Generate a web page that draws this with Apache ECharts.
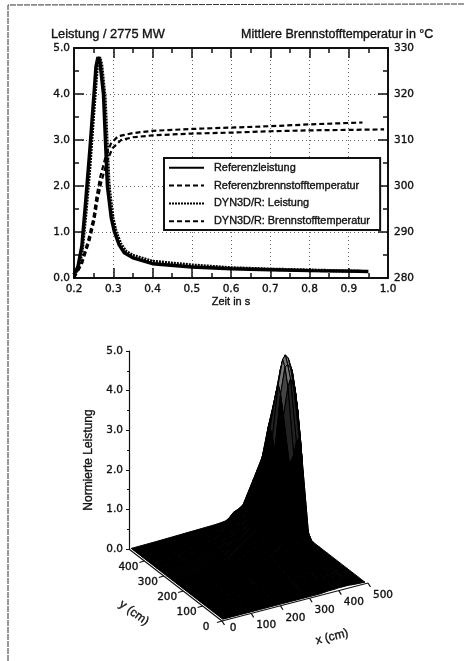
<!DOCTYPE html>
<html>
<head>
<meta charset="utf-8">
<title>Leistung und Brennstofftemperatur</title>
<script src="https://cdn.jsdelivr.net/npm/echarts@6/dist/echarts.min.js"></script>
<style>
  html, body { margin: 0; padding: 0; background: #fff; }
  #chart { width: 464px; height: 661px; }
</style>
</head>
<body>
<div id="chart"></div>
<script>
// Obere Grafik: Zeit in s, Leistung normiert, Temperatur in Grad C
const refPower = [[0.2,0.07],[0.21,0.25],[0.22,0.7],[0.23,1.7],[0.24,2.75],[0.25,3.9],[0.256,4.6],[0.261,4.8],[0.266,4.7],[0.275,4.0],[0.285,2.0],[0.295,1.3],[0.303,1.0],[0.315,0.72],[0.328,0.55],[0.35,0.44],[0.4,0.31],[0.5,0.24],[0.6,0.2],[0.7,0.18],[0.8,0.16],[0.9,0.15],[0.95,0.14]];
const dynPower = [[0.2,0.07],[0.21,0.2],[0.22,0.55],[0.23,1.4],[0.24,2.4],[0.25,3.6],[0.259,4.6],[0.265,4.8],[0.27,4.65],[0.279,3.9],[0.289,2.0],[0.299,1.3],[0.307,1.0],[0.319,0.74],[0.332,0.58],[0.35,0.49],[0.4,0.36],[0.5,0.28],[0.6,0.22],[0.7,0.19],[0.8,0.17],[0.9,0.15],[0.93,0.15]];
const refTemp = [[0.2,280],[0.22,283],[0.24,288.3],[0.252,292.6],[0.26,297],[0.27,301],[0.285,305.6],[0.298,308.2],[0.32,310],[0.35,310.6],[0.4,311],[0.5,311.4],[0.6,311.6],[0.7,311.9],[0.8,312.1],[0.9,312.2],[0.99,312.3]];
const dynTemp = [[0.2,280],[0.22,283.6],[0.237,288.5],[0.249,292.8],[0.257,297.5],[0.267,302],[0.281,306.5],[0.294,309.2],[0.312,310.8],[0.35,311.5],[0.4,312],[0.5,312.4],[0.6,312.7],[0.7,313],[0.8,313.4],[0.9,313.7],[0.935,313.8]];

// Untere Grafik: Gitter in cm und normierte Leistung je Gitterpunkt
const surfaceX = [8,100,200,300,340,370,390,405,414,424,438,450,470,495];
const surfaceY = [8,100,200,240,270,285,297,309,320,350,380,420,450,480];
const surfacePower = [
  [0,0,0,0,0,0.02,0.02,0.03,0.03,0.03,0.03,0.02,0.01,0],
  [0,0,0.02,0.08,0.12,0.15,0.18,0.2,0.2,0.2,0.15,0.1,0.03,0],
  [0,0.02,0.1,0.3,0.5,0.8,1.0,1.0,0.9,0.5,0.15,0.05,0.02,0],
  [0,0.03,0.15,0.55,1.0,1.6,2.3,2.5,2.8,2.9,1.2,0.2,0.05,0],
  [0,0.04,0.2,0.75,1.4,2.2,3.4,4.1,4.3,4.1,3.5,2.55,0.2,0],
  [0,0.05,0.22,0.8,1.5,2.5,3.9,4.55,4.6,4.5,4.0,3.3,0.6,0],
  [0,0.05,0.25,0.85,1.6,2.8,4.1,4.7,4.8,4.7,4.35,3.75,2.2,0],
  [0,0.05,0.28,0.9,1.7,3.0,3.85,4.4,4.6,4.65,4.45,4.0,2.7,0],
  [0,0.05,0.3,0.95,1.7,2.8,3.55,4.0,4.3,4.5,4.4,4.0,3.0,0],
  [0,0.05,0.3,0.95,1.6,2.1,2.8,3.2,3.4,3.6,3.6,3.3,2.4,1.0],
  [0,0.05,0.25,0.75,0.95,1.35,1.75,2.0,2.2,2.3,2.3,2.1,1.6,0.7],
  [0,0.04,0.12,0.3,0.6,0.75,0.85,0.95,1.0,1.05,1.0,0.9,0.7,0.4],
  [0,0.02,0.06,0.1,0.4,0.4,0.45,0.5,0.5,0.5,0.5,0.45,0.4,0.3],
  [0,0.01,0.03,0.05,0.08,0.1,0.12,0.15,0.15,0.18,0.2,0.2,0.15,0.1]
];
const xTicks = [0,100,200,300,400,500];
const yTicks = [0,100,200,300,400];

const sans = '"Liberation Sans", Arial, sans-serif';
const digits = '"DejaVu Sans", sans-serif';
const ink = '#111';
const numFmt = v => v.toFixed(1);
// Scan wirkt fett: Text leicht nachziehen
const heavy = { textBorderColor: '#111', textBorderWidth: 0.35 };

// Schraegbild: (x, y, z) auf die waagerechte Hilfsachse und die z-Achse abbilden
function project(x, y, z) {
  return [x * 0.292 - y * 0.194 + 93, z + (x * 0.076 + y * 0.15 - 72) / 39.6];
}

const chart = echarts.init(document.getElementById('chart'), null, { renderer: 'canvas' });

function frameXAxis(position, showLabels) {
  return {
    type: 'value', gridIndex: 0, position, min: 0.2, max: 1.0, interval: 0.1,
    axisLine: { show: true, onZero: false, lineStyle: { color: ink, width: 2 } },
    axisTick: { show: true, inside: true, length: 10, lineStyle: { color: ink, width: 1.5 } },
    minorTick: { show: true, splitNumber: 2, length: 5, lineStyle: { color: ink, width: 1.5 } },
    axisLabel: { show: showLabels, formatter: numFmt, margin: 6, color: ink, fontFamily: digits, fontSize: 10.5, showMinLabel: true, showMaxLabel: true, ...heavy },
    splitLine: { show: showLabels, lineStyle: { color: '#666', width: 1, type: [1, 3] } },
    name: showLabels ? 'Zeit in s' : '',
    nameLocation: 'middle', nameGap: 18,
    nameTextStyle: { color: ink, fontFamily: sans, fontSize: 11, ...heavy }
  };
}

function frameYAxis(position, min, max, interval, formatter, grid) {
  return {
    type: 'value', gridIndex: 0, position, min, max, interval,
    axisLine: { show: true, onZero: false, lineStyle: { color: ink, width: 2 } },
    axisTick: { show: true, inside: true, length: 10, lineStyle: { color: ink, width: 1.5 } },
    minorTick: { show: true, splitNumber: 2, length: 5, lineStyle: { color: ink, width: 1.5 } },
    axisLabel: { formatter, margin: position === 'left' ? 4 : 6, color: ink, fontFamily: digits, fontSize: 10.5, ...heavy },
    splitLine: { show: grid, lineStyle: { color: '#666', width: 1, type: [1, 3] } }
  };
}

function lineSeries(name, data, yAxisIndex, width, type) {
  return {
    name, type: 'line', data, xAxisIndex: 0, yAxisIndex,
    showSymbol: false, symbol: 'none', smooth: false, z: 3, silent: true,
    lineStyle: { color: '#000', width, type },
    itemStyle: { color: '#000' }
  };
}

const surfaceCells = [];
surfaceY.forEach((y, j) => {
  if (j === surfaceY.length - 1) return;
  surfaceX.forEach((x, i) => {
    if (i === surfaceX.length - 1) return;
    surfaceCells.push([i, j]);
  });
});
// von hinten nach vorn zeichnen
surfaceCells.reverse();

function cellFill(height) {
  if (height > 3.8) return '#777';
  if (height > 3) return '#444';
  if (height > 2.2) return '#222';
  return '#000';
}

function renderCell(params, api) {
  const i = api.value(0), j = api.value(1);
  const corners = [[i, j], [i + 1, j], [i + 1, j + 1], [i, j + 1]];
  const pts = corners.map(c => api.coord(project(surfaceX[c[0]], surfaceY[c[1]], surfacePower[c[1]][c[0]])));
  const high = Math.min.apply(null, corners.map(c => surfacePower[c[1]][c[0]]));
  return {
    type: 'polygon',
    shape: { points: pts },
    style: { fill: cellFill(high), stroke: '#000', lineWidth: 1 }
  };
}

// schraege Achse: Linie, Teilstriche und Beschriftung
function obliqueAxis(ticks, toPoint, tickDir, labelDir, axisEnd) {
  return function (params, api) {
    const t = ticks[params.dataIndex];
    const a = api.coord(toPoint(t));
    const off = labelDir(t);
    const children = [
      { type: 'line', shape: { x1: a[0], y1: a[1], x2: a[0] + tickDir[0], y2: a[1] + tickDir[1] }, style: { stroke: ink, lineWidth: 1.2 } },
      { type: 'text', x: a[0] + off[0], y: a[1] + off[1], style: { text: String(t), fill: ink, font: '10.5px ' + digits, textAlign: 'center', textVerticalAlign: 'middle', stroke: '#111', lineWidth: 0.35 } }
    ];
    if (params.dataIndex === 0) {
      const s = api.coord(toPoint(0)), e = api.coord(toPoint(axisEnd));
      children.push({ type: 'line', shape: { x1: s[0], y1: s[1], x2: e[0], y2: e[1] }, style: { stroke: ink, lineWidth: 1.2 } });
    }
    return { type: 'group', children };
  };
}

const option = {
  animation: false,
  backgroundColor: '#fff',
  title: [
    { text: 'Leistung / 2775 MW', left: 51, top: 28, padding: 0, textStyle: { color: ink, fontFamily: sans, fontSize: 12.8, fontWeight: 'normal', ...heavy } },
    { text: 'Mittlere Brennstofftemperatur in °C', left: 241, top: 28, padding: 0, textStyle: { color: ink, fontFamily: sans, fontSize: 12.5, fontWeight: 'normal', ...heavy } }
  ],
  legend: {
    show: true,
    data: ['Referenzleistung', 'Referenzbrennstofftemperatur', 'DYN3D/R: Leistung', 'DYN3D/R: Brennstofftemperatur'],
    left: 164, top: 158, orient: 'vertical', align: 'left',
    padding: [4, 10, 3, 4],
    itemWidth: 35, itemHeight: 10, itemGap: 6.5,
    backgroundColor: '#fff', borderColor: ink, borderWidth: 2,
    selectedMode: false,
    itemStyle: { opacity: 0 },
    textStyle: { color: ink, fontFamily: sans, fontSize: 10.9, padding: [0, 0, 0, 5], ...heavy }
  },
  grid: [
    { left: 74, right: 76, top: 48, height: 230, containLabel: false },
    { left: 129, top: 351, width: 260, height: 198 }
  ],
  xAxis: [
    frameXAxis('bottom', true),
    frameXAxis('top', false),
    { type: 'value', gridIndex: 1, min: 0, max: 260, show: false }
  ],
  yAxis: [
    frameYAxis('left', 0, 5, 1, numFmt, true),
    frameYAxis('right', 280, 330, 10, v => String(v), false),
    {
      type: 'value', gridIndex: 1, position: 'left', min: 0, max: 5, interval: 1,
      axisLine: { show: true, onZero: false, lineStyle: { color: ink, width: 1.2 } },
      axisTick: { show: true, length: 3, lineStyle: { color: ink } },
      minorTick: { show: true, splitNumber: 2, length: 2, lineStyle: { color: ink } },
      splitLine: { show: false },
      axisLabel: { formatter: numFmt, margin: 6, color: ink, fontFamily: digits, fontSize: 10.5, ...heavy },
      name: 'Normierte Leistung', nameLocation: 'middle', nameGap: 33,
      nameTextStyle: { color: ink, fontFamily: sans, fontSize: 12, padding: [0, 20, 0, 0], ...heavy }
    }
  ],
  series: [
    lineSeries('Referenzleistung', refPower, 0, 3.4, 'solid'),
    lineSeries('Referenzbrennstofftemperatur', refTemp, 1, 2.2, [5, 3]),
    lineSeries('DYN3D/R: Leistung', dynPower, 0, 3.4, [2, 1]),
    lineSeries('DYN3D/R: Brennstofftemperatur', dynTemp, 1, 2.2, [5, 3]),
    { type: 'custom', xAxisIndex: 2, yAxisIndex: 2, silent: true, clip: false, data: surfaceCells, renderItem: renderCell, encode: { x: [], y: [] } },
    { type: 'custom', xAxisIndex: 2, yAxisIndex: 2, silent: true, clip: false, data: xTicks, encode: { x: [], y: [] },
      renderItem: obliqueAxis(xTicks, t => project(t, 0, 0), [2.5, 4], t => (t === 0 ? [11, 7] : [15, 12]), 500) },
    { type: 'custom', xAxisIndex: 2, yAxisIndex: 2, silent: true, clip: false, data: yTicks, encode: { x: [], y: [] },
      renderItem: obliqueAxis(yTicks, t => project(0, t, 0), [-5, 1.5], () => [-16, 6], 480) }
  ],
  graphic: [
    { type: 'polyline', silent: true, shape: { points: [[8, 661], [8, 5], [464, 4]] }, style: { stroke: '#333', lineWidth: 1, fill: 'none', lineDash: [6, 1] } },
    { type: 'text', silent: true, x: 134, y: 613, rotation: -0.63, style: { text: 'y (cm)', fill: ink, font: '12px ' + sans, textAlign: 'center', textVerticalAlign: 'middle', stroke: '#111', lineWidth: 0.35 } },
    { type: 'text', silent: true, x: 332, y: 637, rotation: 0.25, style: { text: 'x (cm)', fill: ink, font: '12px ' + sans, textAlign: 'center', textVerticalAlign: 'middle', stroke: '#111', lineWidth: 0.35 } }
  ]
};

chart.setOption(option);
</script>
</body>
</html>
